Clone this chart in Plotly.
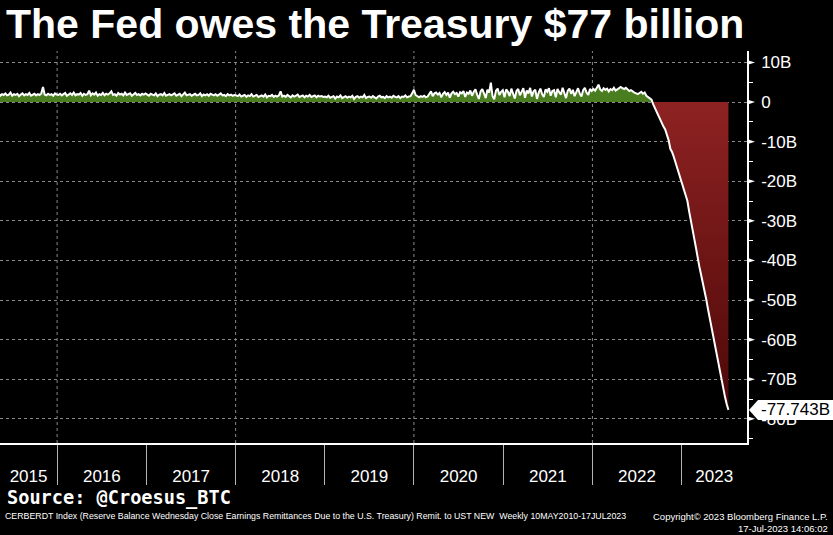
import numpy as np
import pandas as pd
import plotly.graph_objects as go

# ---------------- data (weekly, $ billions) ----------------
remit_2015 = [1.9, 2.3, 1.6, 2.0, 1.8, 2.2, 1.7, 1.9, 2.4, 1.6, 2.0, 1.8,
              2.1, 1.5, 1.9, 2.2, 1.7, 2.0, 1.8, 2.3, 1.6, 1.9, 2.1, 1.7,
              2.0, 1.8, 2.2, 3.8, 1.9, 1.7, 2.1, 1.8, 2.0, 1.6, 2.2, 1.9]
remit_2016 = [1.8, 2.1, 1.7, 2.0, 2.3, 1.6, 1.9, 2.2, 1.8, 2.4, 1.7, 2.0, 1.9,
              2.3, 1.6, 2.1, 1.8, 2.0, 2.9, 1.7, 2.2, 1.9, 2.4, 1.6, 2.0, 1.8,
              2.3, 1.7, 2.1, 1.9, 2.2, 2.7, 1.8, 2.0, 1.6, 2.3, 1.9, 2.1, 1.7,
              2.4, 1.8, 2.0, 2.2, 1.6, 1.9, 2.3, 1.8, 2.0, 1.7, 2.1, 1.9, 2.2]
remit_2017 = [1.9, 1.6, 2.1, 1.8, 1.7, 2.2, 1.5, 1.9, 2.0, 1.7, 2.3, 1.6, 1.8,
              2.0, 1.7, 1.9, 2.2, 1.6, 1.8, 2.1, 1.5, 1.9, 2.4, 1.7, 1.8, 2.0,
              1.6, 1.9, 2.1, 1.7, 1.8, 2.2, 1.5, 1.9, 1.7, 2.0, 1.6, 2.1, 1.8,
              1.7, 2.0, 1.6, 1.9, 2.2, 1.7, 1.8, 1.5, 2.0, 1.7, 1.9, 1.6, 1.8]
remit_2018 = [1.7, 1.5, 1.9, 1.4, 1.6, 1.8, 1.3, 1.7, 1.5, 2.0, 1.4, 1.6, 1.8,
              1.3, 1.5, 1.7, 1.4, 1.9, 1.2, 1.6, 1.5, 1.8, 1.3, 1.6, 1.4, 1.7,
              2.7, 1.4, 1.6, 1.3, 1.8, 1.5, 1.2, 1.7, 1.4, 1.6, 1.9, 1.3, 1.5,
              1.7, 1.2, 1.6, 1.4, 1.8, 1.3, 1.5, 1.7, 1.2, 1.6, 1.4, 1.5, 1.3]
remit_2019 = [1.4, 1.2, 1.6, 1.1, 1.3, 1.5, 0.9, 1.4, 1.2, 1.7, 1.0, 1.3, 1.5,
              1.1, 1.4, 1.2, 1.6, 0.8, 1.3, 1.5, 1.1, 1.4, 1.2, 1.8, 1.0, 1.3,
              1.4, 1.1, 1.5, 1.2, 0.9, 1.4, 1.6, 1.2, 1.3, 1.0, 1.5, 1.2, 1.4,
              1.1, 1.6, 1.3, 1.2, 1.5, 1.0, 1.4, 1.3, 1.7, 1.2, 1.4, 1.5, 2.2]
remit_2020 = [3.1, 1.8, 1.4, 1.2, 1.5, 1.3, 1.6, 1.2, 1.4, 2.0, 2.7, 1.5, 2.2,
              2.4, 1.9, 2.3, 1.2, 2.1, 2.5, 1.8, 2.4, 1.1, 2.2, 2.6, 2.0, 2.3,
              1.4, 2.5, 2.2, 2.8, 1.3, 2.4, 2.1, 2.9, 1.6, 2.6, 3.2, 1.9, 0.8,
              2.7, 3.3, 2.2, 1.0, 3.1, 2.4, 4.9, 1.5, 0.7, 2.9, 3.4, 1.8, 2.6, 3.0]
remit_2021 = [1.2, 3.2, 2.6, 1.5, 3.4, 2.1, 0.9, 2.8, 3.3, 1.7, 2.5, 3.5, 1.1,
              2.9, 2.2, 3.6, 1.4, 2.7, 3.1, 0.8, 2.4, 3.4, 2.0, 1.3, 3.2, 2.6,
              3.5, 1.6, 2.8, 3.0, 1.2, 3.3, 2.5, 1.9, 3.6, 2.3, 1.0, 2.9, 3.4,
              2.1, 3.1, 1.5, 2.7, 3.5, 2.2, 1.4, 3.0, 3.6, 2.4, 1.8, 3.3, 2.8]
remit_2022 = [3.3, 2.9, 3.6, 4.4, 3.2, 2.8, 3.5, 3.1, 3.4, 2.7, 3.3, 3.0, 3.6,
              2.9, 3.2, 3.4, 3.8, 3.5, 3.3, 3.6, 3.1, 2.8, 3.0, 2.6, 2.4, 2.2,
              2.0, 2.3, 2.6, 2.1, 2.4, 1.6, 1.3, 1.1, 0.6,
              -0.6, -1.6, -2.6, -3.3, -4.2, -5.3, -6.2, -6.9, -8.0, -9.6,
              -11.8, -12.6, -13.8, -15.2, -16.6, -17.7, -18.8]
remit_2023 = [-20.5, -22.0, -23.4, -25.0, -27.6, -30.2, -32.6, -34.5,
              -36.8, -39.5, -41.6, -43.6, -45.4, -47.5, -49.8, -52.2,
              -54.5, -56.8, -59.2, -61.5, -63.9, -66.3, -68.4, -70.6,
              -72.6, -74.5, -76.3, -77.743]

last_date = "2023-07-12"
x_start, x_end = "2015-05-12", "2023-09-26"
label_years = [2015, 2016, 2017, 2018, 2019, 2020, 2021, 2022, 2023]
grid_years = [2016, 2018, 2020, 2022]
ytick_vals = [10, 0, -10, -20, -30, -40, -50, -60, -70, -80]
ytick_text = ["10B", "0", "-10B", "-20B", "-30B", "-40B", "-50B", "-60B", "-70B", "-80B"]
yminor_vals = [5, -5, -15, -25, -35, -45, -55, -65, -75, -85]
y_range = [-86.1, 12.9]

title_text = "The Fed owes the Treasury $77 billion"
source_text = "Source: @Croesus_BTC"
footer_left = ("CERBERDT Index (Reserve Balance Wednesday Close Earnings Remittances Due to the "
               "U.S. Treasury) Remit. to UST NEW  Weekly 10MAY2010-17JUL2023")
footer_right = "Copyright\u00a9 2023 Bloomberg Finance L.P.<br>17-Jul-2023 14:06:02"

# ---------------- build ----------------
values = np.array(remit_2015 + remit_2016 + remit_2017 + remit_2018 + remit_2019
                  + remit_2020 + remit_2021 + remit_2022 + remit_2023)
dates = pd.date_range(end=last_date, periods=len(values), freq="7D")
last_val = values[-1]

W, H = 833, 535
ML, MR, MT, MB = 0, 86, 51, 92
PW, PH = W - ML - MR, H - MT - MB
def px_x(x):
    return (x - ML) / PW
def px_y(y):
    return (H - MB - y) / PH

SANS = "Liberation Sans, Arial, sans-serif"
MONO = "DejaVu Sans Mono, monospace"

fig = go.Figure()
fig.add_trace(go.Scatter(x=dates, y=np.maximum(values, 0), mode="lines",
                         line=dict(width=0), fill="tozeroy", fillcolor="#4a7d1f",
                         hoverinfo="skip", showlegend=False))
neg_mask = np.concatenate([[False], values[1:] < 0]) | np.concatenate([values[1:] < 0, [False]])
fig.add_trace(go.Scatter(x=dates[neg_mask], y=np.minimum(values[neg_mask], 0), mode="lines",
                         line=dict(width=0), fill="tozeroy",
                         fillgradient=dict(type="vertical",
                                           colorscale=[[0, "#4e0808"], [1, "#8e2222"]]),
                         hoverinfo="skip", showlegend=False))
fig.add_trace(go.Scatter(x=dates, y=values, mode="lines",
                         line=dict(color="white", width=2),
                         showlegend=False))

# x tick label positions: centre of the visible part of each year
xs, xe = pd.Timestamp(x_start), pd.Timestamp(x_end)
label_pos = []
for yr in label_years:
    a = max(xs, pd.Timestamp(f"{yr}-01-01"))
    b = min(xe, pd.Timestamp(f"{yr + 1}-01-01"))
    label_pos.append(a + (b - a) / 2)
boundaries = [pd.Timestamp(f"{yr}-01-01") for yr in label_years[1:]]

fig.update_layout(
    width=W, height=H,
    margin=dict(l=ML, r=MR, t=MT, b=MB),
    paper_bgcolor="black", plot_bgcolor="black",
    showlegend=False,
    xaxis=dict(range=[xs, xe], type="date",
               tickvals=label_pos, ticktext=[str(y) for y in label_years],
               ticks="", showgrid=False, zeroline=False,
               showline=True, linecolor="white", linewidth=1.5,
               tickfont=dict(family=SANS, size=17, color="white"),
               ticklabelstandoff=17,
               minor=dict(tickvals=boundaries, ticks="outside", ticklen=40,
                          tickcolor="#b4b4b4", tickwidth=1, showgrid=False)),
    yaxis=dict(range=y_range, side="right",
               tickvals=ytick_vals, ticktext=ytick_text, ticks="",
               showgrid=True, gridcolor="#8a8a8a", griddash="3px,3px", gridwidth=1,
               zeroline=False, showline=True, linecolor="white", linewidth=1.5,
               tickfont=dict(family=SANS, size=17, color="white"),
               ticklabelstandoff=9,
               minor=dict(tickvals=yminor_vals, ticks="outside", ticklen=4,
                          tickcolor="white", tickwidth=1, showgrid=False)),
)

shapes = []
for g in grid_years:
    shapes.append(dict(type="line", xref="x", yref="paper",
                       x0=pd.Timestamp(f"{g}-01-01"), x1=pd.Timestamp(f"{g}-01-01"),
                       y0=0, y1=1, layer="below",
                       line=dict(color="#8a8a8a", width=1, dash="3px,3px")))
half = 2.6 / (PH / (y_range[1] - y_range[0]))  # 2.6 px in data units
for v in ytick_vals:
    shapes.append(dict(type="path", xref="paper", yref="y", layer="above",
                       path=f"M 1,{v + half} L {1 + 8 / PW},{v} L 1,{v - half} Z",
                       fillcolor="white", line=dict(width=0)))
bh = 10 / (PH / (y_range[1] - y_range[0]))
x_tip, x_base, x_right = 1 + 2 / PW, 1 + 11 / PW, 1 + 86 / PW
shapes.append(dict(type="path", xref="paper", yref="y", layer="above",
                   path=(f"M {x_tip},{last_val} L {x_base},{last_val + bh} "
                         f"L {x_right},{last_val + bh} L {x_right},{last_val - bh} "
                         f"L {x_base},{last_val - bh} Z"),
                   fillcolor="white", line=dict(width=0)))
fig.update_layout(shapes=shapes)

fig.add_annotation(x=px_x(4), y=px_y(24), xref="paper", yref="paper",
                   text=f"<b>{title_text}</b>", showarrow=False,
                   xanchor="left", yanchor="middle",
                   font=dict(family=SANS, size=41, color="white"))
fig.add_annotation(x=px_x(5), y=px_y(498), xref="paper", yref="paper",
                   text=f"<b>{source_text}</b>", showarrow=False,
                   xanchor="left", yanchor="middle",
                   font=dict(family=MONO, size=18.6, color="white"))
fig.add_annotation(x=px_x(3), y=px_y(516), xref="paper", yref="paper",
                   text=footer_left, showarrow=False,
                   xanchor="left", yanchor="middle",
                   font=dict(family=SANS, size=8.8, color="white"))
fig.add_annotation(x=px_x(830), y=px_y(522), xref="paper", yref="paper",
                   text=footer_right, showarrow=False, align="right",
                   xanchor="right", yanchor="middle",
                   font=dict(family=SANS, size=9.5, color="white"))
fig.add_annotation(x=1 + 12 / PW, y=last_val, xref="paper", yref="y",
                   text=f"{last_val:.3f}B", showarrow=False,
                   xanchor="left", yanchor="middle",
                   font=dict(family=SANS, size=17, color="black"))

fig.write_html("out.html")
